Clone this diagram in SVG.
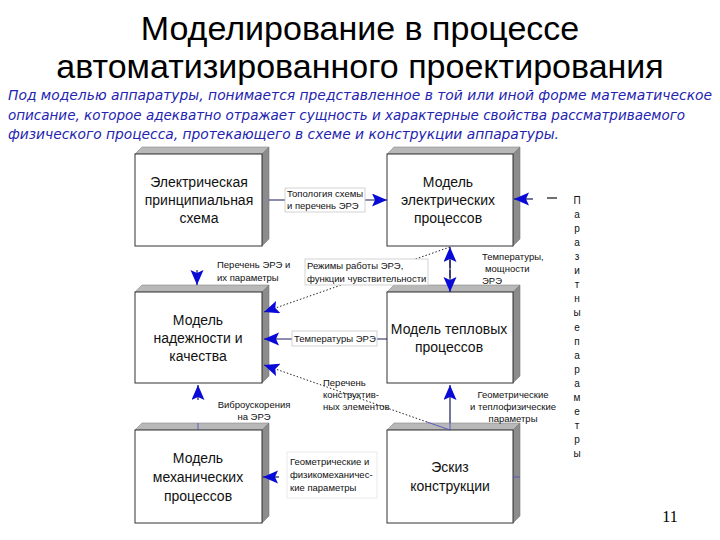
<svg xmlns="http://www.w3.org/2000/svg" width="720" height="540" viewBox="0 0 720 540">
<style>
.title{font-family:"Liberation Sans",Arial,sans-serif;font-size:34px;fill:#000;text-anchor:middle}
.sub{font-family:"DejaVu Sans",Verdana,sans-serif;font-style:italic;font-size:13.5px;fill:#2323b0}
.front{fill:#fff;stroke:#333;stroke-width:1}
.top{fill:#b8b8b8;stroke:#888;stroke-width:0.6}
.side{fill:#8c8c8c;stroke:#777;stroke-width:0.6}
.bt{font-family:"Liberation Sans",Arial,sans-serif;font-size:14px;fill:#111;text-anchor:middle}
.lbl{font-family:"Liberation Sans",Arial,sans-serif;font-size:9.5px;fill:#111}
.lblc{font-family:"Liberation Sans",Arial,sans-serif;font-size:9.5px;fill:#111;text-anchor:middle}
.lbox{fill:#fff;stroke:#c8c8c8;stroke-width:0.8}
.ln{stroke:#1c1c5c;stroke-width:1.2;fill:none}
.dot{stroke:#222;stroke-width:1;stroke-dasharray:1.5 2;fill:none}
.bl{stroke:#5050c0;stroke-width:0.9;fill:none}
.vt{font-family:"Liberation Sans",Arial,sans-serif;font-size:10px;fill:#111;text-anchor:middle}
</style>
<defs>
<marker id="ah" markerUnits="userSpaceOnUse" markerWidth="18" markerHeight="14" refX="15" refY="6.5" orient="auto-start-reverse">
<path d="M0,0 L15,6.5 L0,13 L3,6.5 z" fill="#0a0ad8"/>
</marker>
</defs>

<text class="title" x="360" y="40">Моделирование в процессе</text>
<text class="title" x="360" y="78">автоматизированного проектирования</text>

<text class="sub" x="8" y="100" textLength="704" lengthAdjust="spacingAndGlyphs">Под моделью аппаратуры, понимается представленное в той или иной форме математическое</text>
<text class="sub" x="8" y="120" textLength="677" lengthAdjust="spacingAndGlyphs">описание, которое адекватно отражает сущность и характерные свойства рассматриваемого</text>
<text class="sub" x="8" y="139" textLength="551" lengthAdjust="spacingAndGlyphs">физического процесса, протекающего в схеме и конструкции аппаратуры.</text>

<g id="node-electric-scheme">
<polygon class="top" points="135,154 142,147 269,147 262,154"/>
<polygon class="side" points="262,154 269,147 269,239 262,246"/>
<rect class="front" x="135" y="154" width="127" height="92"/>
<text class="bt" x="199" y="187">Электрическая</text>
<text class="bt" x="199" y="205">принципиальная</text>
<text class="bt" x="199" y="223">схема</text>
</g>

<g id="node-electric-model">
<polygon class="top" points="387,154 394,147 520,147 513,154"/>
<polygon class="side" points="513,154 520,147 520,239 513,246"/>
<rect class="front" x="387" y="154" width="126" height="92"/>
<text class="bt" x="448" y="187">Модель</text>
<text class="bt" x="448" y="205">электрических</text>
<text class="bt" x="448" y="223">процессов</text>
</g>

<g id="node-reliability">
<polygon class="top" points="135,292 142,285 269,285 262,292"/>
<polygon class="side" points="262,292 269,285 269,376 262,383"/>
<rect class="front" x="135" y="292" width="127" height="91"/>
<text class="bt" x="198" y="325">Модель</text>
<text class="bt" x="198" y="343">надежности и</text>
<text class="bt" x="198" y="361">качества</text>
</g>

<g id="node-thermal">
<polygon class="top" points="387,292 394,285 520,285 513,292"/>
<polygon class="side" points="513,292 520,285 520,376 513,383"/>
<rect class="front" x="387" y="292" width="126" height="91"/>
<text class="bt" x="449" y="334">Модель тепловых</text>
<text class="bt" x="449" y="352">процессов</text>
</g>

<g id="node-mechanical">
<polygon class="top" points="135,430 142,423 269,423 262,430"/>
<polygon class="side" points="262,430 269,423 269,516 262,523"/>
<rect class="front" x="135" y="430" width="127" height="93"/>
<text class="bt" x="198" y="463">Модель</text>
<text class="bt" x="198" y="482">механических</text>
<text class="bt" x="198" y="501">процессов</text>
</g>

<g id="node-sketch">
<polygon class="top" points="387,430 394,423 520,423 513,430"/>
<polygon class="side" points="513,430 520,423 520,516 513,523"/>
<rect class="front" x="387" y="430" width="126" height="93"/>
<text class="bt" x="450" y="472">Эскиз</text>
<text class="bt" x="450" y="491">конструкции</text>
</g>

<g id="connectors">
<line class="ln" x1="269" y1="200" x2="387" y2="200" marker-end="url(#ah)"/>
<line class="ln" x1="533" y1="199" x2="514" y2="199" marker-end="url(#ah)"/>
<line x1="547" y1="198" x2="557" y2="198" stroke="#111" stroke-width="1.2"/>
<line class="ln" x1="450" y1="260" x2="450" y2="278"/>
<line class="ln" x1="450" y1="268" x2="450" y2="247" marker-end="url(#ah)"/>
<line class="ln" x1="450" y1="270" x2="450" y2="292" marker-end="url(#ah)"/>
<line class="dot" x1="450" y1="247" x2="264" y2="312" marker-end="url(#ah)"/>
<line class="ln" x1="387" y1="339" x2="264" y2="339" marker-end="url(#ah)"/>
<line class="bl" x1="427" y1="422" x2="450" y2="430"/>
<line class="dot" x1="427" y1="422" x2="264" y2="365" marker-end="url(#ah)"/>
<line class="ln" x1="450" y1="423" x2="450" y2="385" marker-end="url(#ah)"/>
<line class="bl" x1="450" y1="423" x2="450" y2="430"/>
<line class="ln" x1="197" y1="270" x2="197" y2="285" stroke="none" marker-end="url(#ah)"/>
<line class="ln" x1="198" y1="400" x2="198" y2="385" stroke="none" marker-end="url(#ah)"/>
<line class="bl" x1="198" y1="423" x2="198" y2="430"/>
<line class="ln" x1="279" y1="477" x2="263" y2="477" stroke="none" marker-end="url(#ah)"/>
<line class="bl" x1="513" y1="477" x2="520" y2="477"/>
</g>

<g id="labels">
<rect class="lbox" x="285" y="188" width="80" height="24"/>
<text class="lbl" x="287" y="197">Топология схемы</text>
<text class="lbl" x="287" y="209">и перечень ЭРЭ</text>

<text class="lbl" x="482" y="260">Температуры,</text>
<text class="lbl" x="485" y="272">мощности</text>
<text class="lbl" x="482" y="284">ЭРЭ</text>

<text class="lbl" x="217" y="268">Перечень ЭРЭ и</text>
<text class="lbl" x="217" y="281">их параметры</text>

<rect class="lbox" x="305" y="259" width="123" height="26"/>
<text class="lbl" x="307" y="269">Режимы работы ЭРЭ,</text>
<text class="lbl" x="307" y="282">функции чувствительности</text>

<rect class="lbox" x="292" y="331" width="85" height="15"/>
<text class="lbl" x="294" y="342">Температуры ЭРЭ</text>

<text class="lbl" x="323" y="386">Перечень</text>
<text class="lbl" x="323" y="398">конструктив-</text>
<text class="lbl" x="323" y="410">ных элементов</text>

<text class="lblc" x="513" y="398">Геометрические</text>
<text class="lblc" x="513" y="410">и теплофизические</text>
<text class="lblc" x="513" y="422">параметры</text>

<text class="lblc" x="254" y="408">Виброускорения</text>
<text class="lblc" x="254" y="420">на ЭРЭ</text>

<rect x="287" y="452" width="90" height="46" fill="#fff" stroke="#e4e4e4" stroke-width="0.8"/>
<text class="lbl" x="290" y="465">Геометрические и</text>
<text class="lbl" x="290" y="478">физикомеханичес-</text>
<text class="lbl" x="290" y="491">кие параметры</text>
</g>

<g id="parasitic">
<text class="vt" x="577" y="204">П</text>
<text class="vt" x="577" y="218">а</text>
<text class="vt" x="577" y="232">р</text>
<text class="vt" x="577" y="246">а</text>
<text class="vt" x="577" y="260">з</text>
<text class="vt" x="577" y="274">и</text>
<text class="vt" x="577" y="288">т</text>
<text class="vt" x="577" y="302">н</text>
<text class="vt" x="577" y="316">ы</text>
<text class="vt" x="577" y="331">е</text>
<text class="vt" x="577" y="345">п</text>
<text class="vt" x="577" y="359">а</text>
<text class="vt" x="577" y="373">р</text>
<text class="vt" x="577" y="387">а</text>
<text class="vt" x="577" y="401">м</text>
<text class="vt" x="577" y="415">е</text>
<text class="vt" x="577" y="429">т</text>
<text class="vt" x="577" y="443">р</text>
<text class="vt" x="577" y="457">ы</text>
</g>

<text x="670" y="522" font-family="Liberation Serif,serif" font-size="16" text-anchor="middle">11</text>
</svg>
